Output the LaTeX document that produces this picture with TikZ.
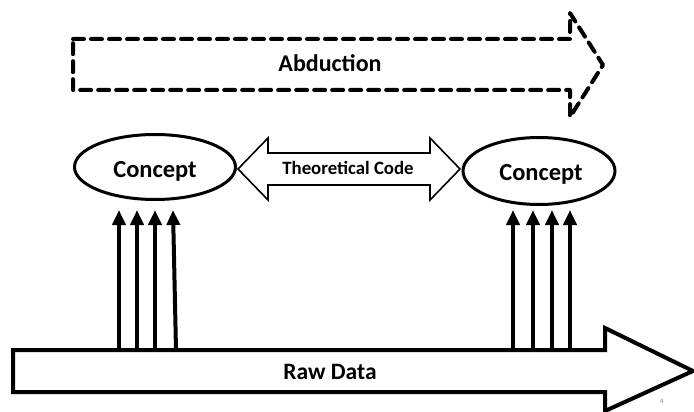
\documentclass[tikz,border=0pt]{standalone}
\usepackage{fontspec}
\setmainfont{Carlito}
\usetikzlibrary{arrows.meta,shapes.geometric}

\tikzset{
  label text/.style={inner sep=0pt, anchor=base},
  concept/.style={draw, ellipse, line width=3pt, fill=white, inner sep=0pt},
  concept text/.style={inner sep=0pt, anchor=base, font=\bfseries\fontsize{24.5}{24.5}\selectfont},
  bigarrow/.style={draw, line width=4pt, fill=white, line join=miter},
  codearrow/.style={draw, line width=1.6pt, fill=white, line join=miter},
  dasharrow/.style={draw, line width=4pt, dash pattern=on 11pt off 7pt, line cap=round, line join=round},
  uparrow/.style={line width=4pt, -{Triangle[width=13pt,length=15pt]}}
}

\begin{document}
\begin{tikzpicture}[x=1pt, y=-1pt]
  \useasboundingbox (0,0) rectangle (694,412);

  % dashed abduction arrow
  \path[dasharrow] (73,39) -- (570,39) -- (570,13) -- (603,65)
        -- (570,117) -- (570,90) -- (73,90) -- cycle;
  \node[label text, font=\bfseries\fontsize{24}{24}\selectfont] (abd) at (330,72) {Abduction};

  % raw data arrow
  \path[bigarrow] (13,350) -- (605,350) -- (605,328) -- (693,371)
        -- (605,411) -- (605,392) -- (13,392) -- cycle;
  \node[label text, font=\bfseries\fontsize{23.5}{23.5}\selectfont] (raw) at (330,379) {Raw Data};
  \node[inner sep=0pt, text=black!45, font=\fontsize{7}{7}\selectfont] (pg) at (662,401) {4};

  % concepts
  \node[concept, minimum width=161pt, minimum height=65pt] (c1) at (155,167) {};
  \node[concept text] (c1t) at (155,177) {Concept};
  \node[concept, minimum width=152pt, minimum height=67pt] (c2) at (539,171) {};
  \node[concept text] (c2t) at (541,180) {Concept};

  % theoretical code double arrow between the concepts
  \path[codearrow] (238,169) -- (268,138) -- (268,153) -- (430,153) -- (430,138)
        -- (460,169) -- (430,200) -- (430,185) -- (268,185) -- (268,200) -- cycle;
  \node[label text, font=\bfseries\fontsize{18.8}{18.8}\selectfont] (tc) at (348,174) {Theoretical Code};

  % data to concept arrows
  \foreach \i/\xb/\xt in {1/119/119, 2/137/137, 3/155/155, 4/176/173,
                          5/513/513, 6/533/533, 7/552/552, 8/570/570} {
    \coordinate (b\i) at (\xb,350);
    \coordinate (t\i) at (\xt,210);
    \draw[uparrow] (b\i) -- (t\i);
  }
\end{tikzpicture}
\end{document}
